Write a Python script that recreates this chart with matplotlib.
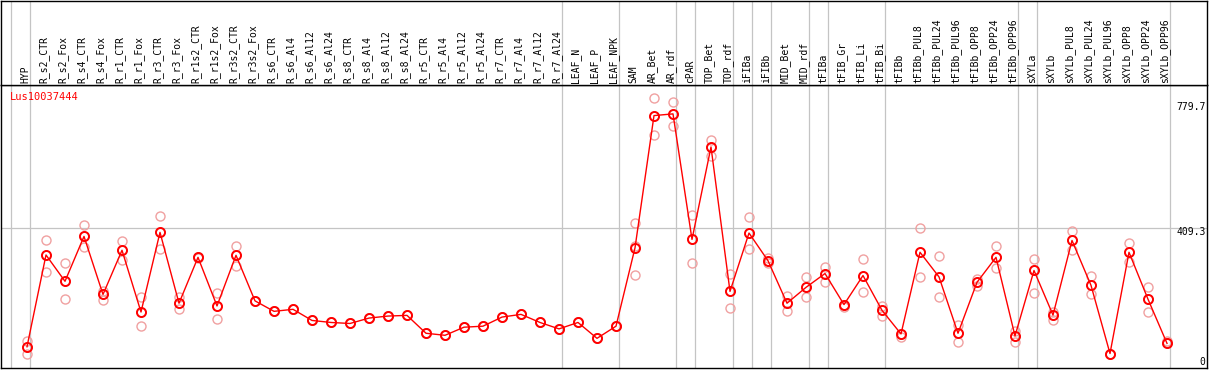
import matplotlib
matplotlib.use("Agg")
import matplotlib.pyplot as plt
import numpy as np

categories = ["HYP", "R_s2_CTR", "R_s2_Fox", "R_s4_CTR", "R_s4_Fox", "R_r1_CTR", "R_r1_Fox",
              "R_r3_CTR", "R_r3_Fox", "R_r1s2_CTR", "R_r1s2_Fox", "R_r3s2_CTR", "R_r3s2_Fox",
              "R_s6_CTR", "R_s6_Al4", "R_s6_Al12", "R_s6_Al24", "R_s8_CTR", "R_s8_Al4",
              "R_s8_Al12", "R_s8_Al24", "R_r5_CTR", "R_r5_Al4", "R_r5_Al12", "R_r5_Al24",
              "R_r7_CTR", "R_r7_Al4", "R_r7_Al12", "R_r7_Al24", "LEAF_N", "LEAF_P", "LEAF_NPK",
              "SAM", "AR_Bet", "AR_rdf", "cPAR", "TOP_Bet", "TOP_rdf", "iFIBa", "iFIBb",
              "MID_Bet", "MID_rdf", "tFIBa", "tFIB_Gr", "tFIB_Li", "tFIB_Bi", "tFIBb",
              "tFIBb_PUL8", "tFIBb_PUL24", "tFIBb_PUL96", "tFIBb_OPP8", "tFIBb_OPP24",
              "tFIBb_OPP96", "sXYLa", "sXYLb", "sXYLb_PUL8", "sXYLb_PUL24", "sXYLb_PUL96",
              "sXYLb_OPP8", "sXYLb_OPP24", "sXYLb_OPP96"]

mean_values = [57, 329, 251, 384, 212, 343, 160, 396, 186, 322, 178, 328, 193,
               162, 168, 135, 129, 126, 142, 148, 150, 97, 91, 115, 118, 145, 153, 129, 110,
               129, 82, 118, 350, 742, 747, 375, 649, 221, 394, 312, 186, 233, 274, 182,
               268, 165, 95, 337, 264, 97, 248, 322, 89, 283, 151, 372, 239, 37, 337, 198, 67]

rep_a = [75, 372, 304, 418, 222, 369, 203, 443, 205, 324, 215, 357, 193,
         162, 168, 135, 129, 126, 142, 148, 150, 97, 91, 115, 118, 145, 153, 129, 110,
         129, 82, 118, 423, 795, 781, 446, 671, 272, 441, 319, 207, 263, 292, 174,
         316, 178, 87, 408, 325, 122, 258, 356, 104, 318, 161, 400, 266, 37, 364, 233, 75]

rep_b = [36, 280, 198, 352, 197, 315, 118, 347, 170, 320, 138, 295, 193,
         162, 168, 135, 129, 126, 142, 148, 150, 97, 91, 115, 118, 145, 153, 129, 110,
         129, 82, 118, 269, 684, 710, 304, 622, 172, 346, 304, 163, 204, 248, 180,
         218, 148, 95, 263, 204, 72, 237, 291, 70, 215, 136, 344, 214, 37, 307, 160, 67]

rep_c = [57, 329, 251, 384, 212, 343, 160, 396, 186, 322, 178, 328, 193,
         162, 168, 135, 129, 126, 142, 148, 150, 97, 91, 115, 118, 145, 153, 129, 110,
         129, 82, 118, 357, 742, 747, 375, 649, 221, 394, 312, 186, 233, 274, 182,
         268, 165, 95, 337, 264, 97, 248, 322, 89, 283, 151, 372, 239, 37, 337, 198, 67]

group_starts = [0, 1, 29, 32, 35, 36, 38, 39, 40, 42, 43, 46, 53, 54, 61]
y_ticks = [0, 409.3, 779.7]
title = "Lus10037444"

W, H = 1209, 370
fig = plt.figure(figsize=(W / 100, H / 100), dpi=100)
fig.patch.set_facecolor("white")

left = 1 / W
width = 1206 / W
main_bottom = (H - 368) / H
main_top = (H - 85) / H
head_top = (H - 0.5) / H

ax = fig.add_axes([left, main_bottom, width, main_top - main_bottom])
hx = fig.add_axes([left, main_top, width, head_top - main_top], sharex=ax)

px_per_unit = 19.0
xmin = -26 / px_per_unit
xmax = xmin + 1206 / px_per_unit
ax.set_xlim(xmin, xmax)
ax.set_ylim(-5.9, 832.6)
hx.set_ylim(0, 1)

n = len(categories)
x = np.arange(n)
grid_c = "#c4c4c4"
off = 16 / px_per_unit
for g in group_starts:
    ax.axvline(g - off, color=grid_c, lw=0.9, zorder=1)
    hx.axvline(g - off, color=grid_c, lw=0.9, zorder=1)
ax.axhline(409.3, color=grid_c, lw=0.9, zorder=1)

pale = "#f0a0a0"
for reps in (rep_a, rep_b, rep_c):
    ax.plot(x, reps, linestyle="none", marker="o", markersize=6.5,
            markerfacecolor="none", markeredgecolor=pale, markeredgewidth=1.0, zorder=2)

ax.plot(x, mean_values, color="#ff0000", lw=1.0, zorder=3)
ax.plot(x, mean_values, linestyle="none", marker="o", markersize=6.5,
        markerfacecolor="none", markeredgecolor="#ff0000", markeredgewidth=1.4, zorder=4)

mono = "DejaVu Sans Mono"
for i, lab in enumerate(categories):
    hx.text(i - 2 / px_per_unit, 0.025, lab, rotation=90, ha="center", va="bottom",
            fontsize=7, family=mono, color="black")

ax.text(9 / 1206, (368 - 97) / 283, title, transform=ax.transAxes, ha="left", va="center",
        fontsize=7.5, family=mono, color="#ff0000")

offsets = {0: 4, 409.3: -4, 779.7: -4}
for v in y_ticks:
    lab = "0" if v == 0 else f"{v}"
    ax.annotate(lab, xy=(1, v), xycoords=("axes fraction", "data"),
                xytext=(-1, offsets[v] * 0.72), textcoords="offset points",
                ha="right", va="center", fontsize=7, family=mono, color="black")

for a in (ax, hx):
    a.set_xticks([])
    a.set_yticks([])
    for s in a.spines.values():
        s.set_color("black")
        s.set_linewidth(1.0)

fig.savefig("out.png", dpi=100, facecolor="white")
